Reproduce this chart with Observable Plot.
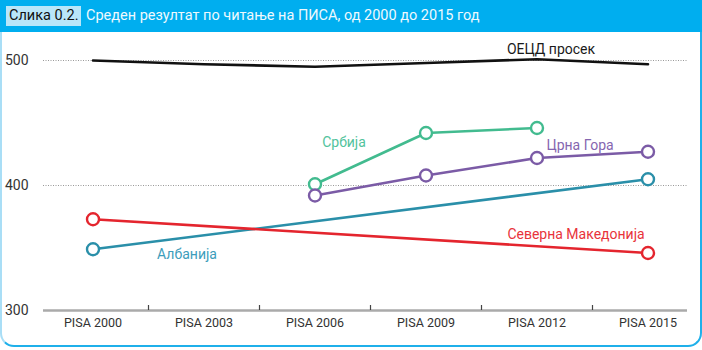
<!DOCTYPE html>
<html>
<head>
<meta charset="utf-8">
<script src="https://cdn.jsdelivr.net/npm/d3@7"></script>
<script src="https://cdn.jsdelivr.net/npm/@observablehq/plot@0.6"></script>
<style>
  html, body { margin: 0; padding: 0; background: #fff; }
  #wrap { position: relative; width: 702px; height: 350px; font-family: Roboto, "DejaVu Sans", sans-serif; overflow: hidden; }
  #head { position: absolute; left: 0; top: 0; width: 702px; height: 32px; background: #00aeef; }
  #fig { position: absolute; left: 6px; top: 6px; height: 20px; line-height: 20px; padding: 0 3px; background: #b9e6f9; color: #111; font-size: 14.5px; }
  #title { position: absolute; left: 86px; top: 6px; height: 20px; line-height: 20px; color: #eef9fe; font-size: 14.5px; }
  #panel { position: absolute; left: 0; top: 32px; width: 698px; height: 313px; border: 2px solid #1fb0ea; border-top: none; border-left-color: #a9def6; border-radius: 0 0 14px 14px; }
  #chart { position: absolute; left: 0; top: 32px; }
</style>
</head>
<body>
<div id="wrap">
  <div id="head"><span id="fig">Слика 0.2.</span><span id="title">Среден резултат по читање на ПИСА, од 2000 до 2015 год</span></div>
  <div id="panel"></div>
  <div id="chart"></div>
</div>
<script>
const categories = ["PISA 2000", "PISA 2003", "PISA 2006", "PISA 2009", "PISA 2012", "PISA 2015"];
const oecd      = [500, 497, 495, 498, 501, 497];
const albania   = [349, null, null, null, null, 405];
const macedonia = [373, null, null, null, null, 346];
const serbia    = [null, null, 401, 442, 446, null];
const montenegro = [null, null, 392, 408, 422, 427];
const yTicks = [300, 400, 500];

const seriesNames = ["ОЕЦД просек", "Албанија", "Северна Македонија", "Србија", "Црна Гора"];
const seriesValues = [oecd, albania, macedonia, serbia, montenegro];
const colors = {"ОЕЦД просек": "#111111", "Албанија": "#2a8fa9", "Северна Македонија": "#e4252e", "Србија": "#42bb8f", "Црна Гора": "#7b5ba6"};
const labelColors = {"ОЕЦД просек": "#1a1a1a", "Албанија": "#3d9dbb", "Северна Македонија": "#e8333b", "Србија": "#52c39c", "Црна Гора": "#8566b0"};

const rows = [];
seriesNames.forEach((name, i) => {
  seriesValues[i].forEach((v, j) => {
    if (v != null) rows.push({series: name, cat: categories[j], value: v});
  });
});
const markerRows = rows.filter(d => d.series !== "ОЕЦД просек");

// label anchors (category, value) for the direct labels
const labels = [
  {name: "ОЕЦД просек", cat: "PISA 2012", value: 509, dx: 14},
  {name: "Србија", cat: "PISA 2006", value: 434, dx: 29},
  {name: "Црна Гора", cat: "PISA 2012", value: 432, dx: 43},
  {name: "Албанија", cat: "PISA 2003", value: 345, dx: -17},
  {name: "Северна Македонија", cat: "PISA 2012", value: 361, dx: 39}
];

const chart = Plot.plot({
  width: 702,
  height: 318,
  marginLeft: 43,
  marginRight: 15,
  marginTop: 28,
  marginBottom: 40,
  style: {fontFamily: "Roboto, sans-serif", fontSize: "12.5px", color: "#333", background: "transparent", overflow: "visible"},
  x: {type: "band", domain: categories, range: [37, 703], padding: 0},
  y: {domain: [300, 500]},
  marks: [
    Plot.ruleY([400, 500], {stroke: "#999", strokeWidth: 1, strokeDasharray: "1,1.5"}),
    Plot.ruleY([300], {stroke: "#aaaaaa", strokeWidth: 2.5}),
    Plot.ruleX(categories.slice(0, -1), {x: d => d, dx: 55.5, y1: 300, y2: 304, stroke: "#444", strokeWidth: 1.2}),
    Plot.axisX({tickSize: 0, tickPadding: 8, fontSize: 12.5, fill: "#333", label: null}),
    Plot.axisY({ticks: yTicks, tickSize: 0, tickPadding: 15, fontSize: 14, fill: "#333", label: null}),
    Plot.line(rows, {x: "cat", y: "value", z: "series", stroke: d => colors[d.series], strokeWidth: 2.6, curve: "linear"}),
    Plot.dot(markerRows, {x: "cat", y: "value", r: 6, fill: "white", stroke: d => colors[d.series], strokeWidth: 2.4}),
    ...labels.map(l => Plot.text([l], {x: "cat", y: "value", dx: l.dx, text: "name", fill: labelColors[l.name], fontSize: 14}))
  ]
});
document.getElementById("chart").appendChild(chart);
</script>
</body>
</html>
